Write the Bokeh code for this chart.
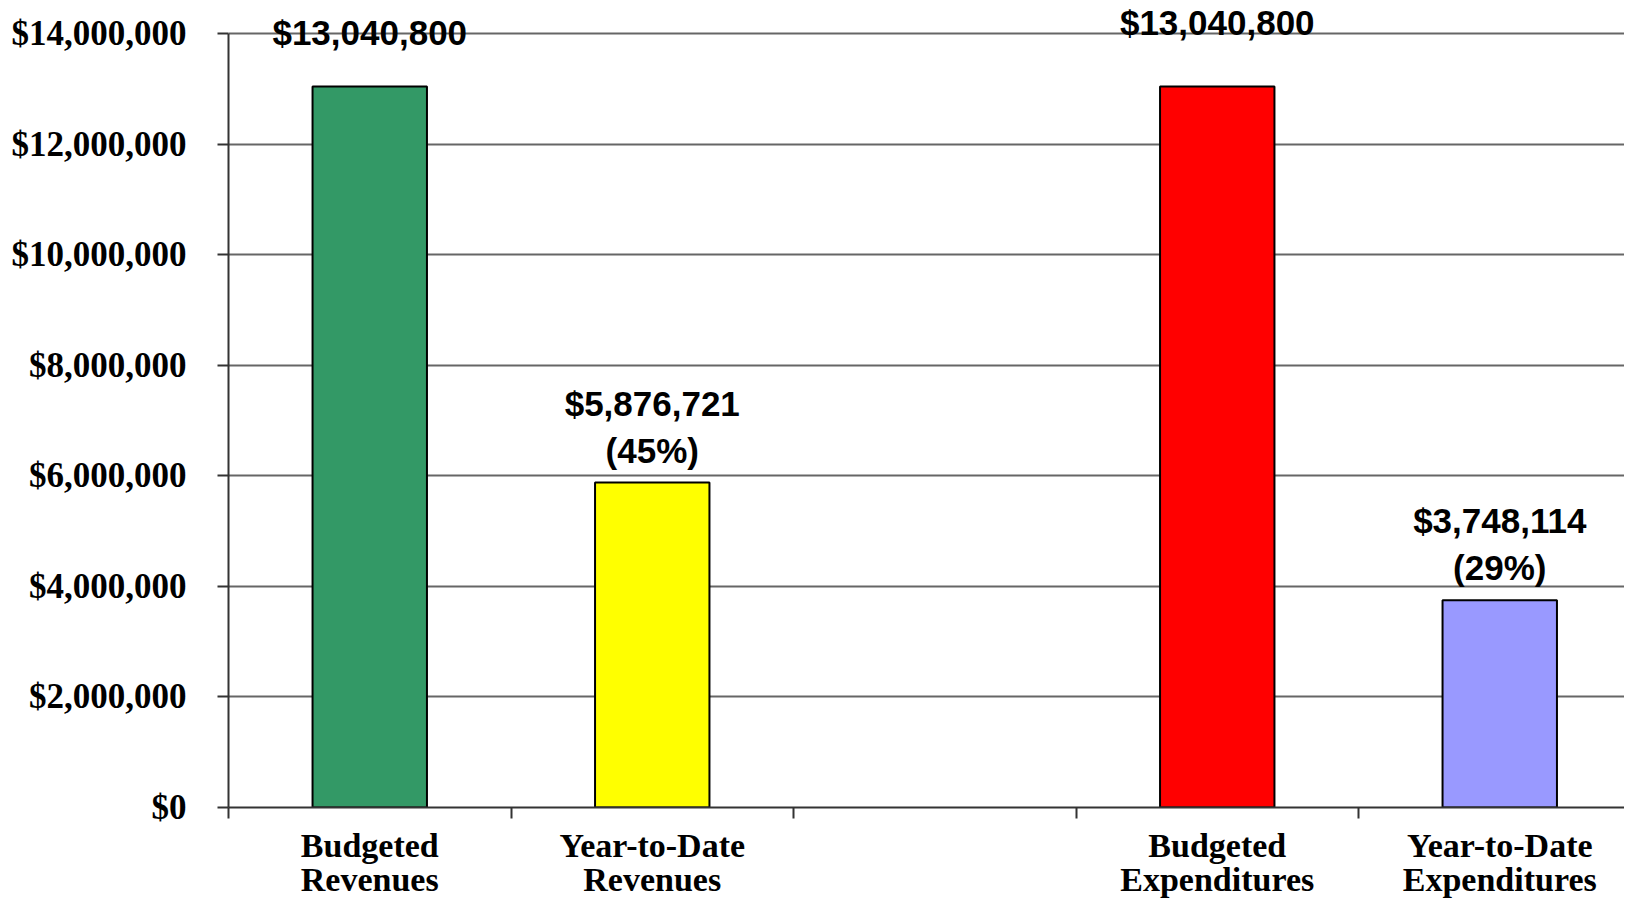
from bokeh.plotting import figure
from bokeh.layouts import column
from bokeh.models import ColumnDataSource, Range1d, FixedTicker
from bokeh.core.properties import value
from bokeh.embed import file_html
from bokeh.resources import INLINE

# ---- data ----
categories = ["Budgeted\nRevenues", "Year-to-Date\nRevenues", "",
              "Budgeted\nExpenditures", "Year-to-Date\nExpenditures"]
amounts = [13040800, 5876721, None, 13040800, 3748114]
bar_labels = ["$13,040,800", "$5,876,721\n(45%)", "",
              "$13,040,800", "$3,748,114\n(29%)"]
bar_colors = ["#339966", "#FFFF00", None, "#FF0000", "#9999FF"]
y_ticks = [0, 2000000, 4000000, 6000000, 8000000, 10000000, 12000000, 14000000]
y_tick_labels = ["$0", "$2,000,000", "$4,000,000", "$6,000,000",
                 "$8,000,000", "$10,000,000", "$12,000,000", "$14,000,000"]

# label vertical offsets (style; Excel clamps the tall bars' labels)
label_offsets = [-35, -13, 0, -45, -13]

idx = [i for i, v in enumerate(amounts) if v is not None]
src = ColumnDataSource(dict(
    x=[i + 0.5 for i in idx],
    top=[amounts[i] for i in idx],
    color=[bar_colors[i] for i in idx],
    label=[bar_labels[i] for i in idx],
    yoff=[label_offsets[i] for i in idx],
))
centers = [i + 0.5 for i in range(len(categories))]
cat_src = ColumnDataSource(dict(x=centers, y=[1] * len(categories),
                                text=categories))

W = 1624
LEFT = 228
FRAME_H = 807
AXIS_B = 20
LABEL_H = 900 - FRAME_H - AXIS_B
SLOT = 282.5
frame_w = W - LEFT
px_per_unit = 774 / 14000000

p = figure(width=W, height=FRAME_H + AXIS_B, output_backend="svg",
           toolbar_location=None,
           x_range=Range1d(0, frame_w / SLOT),
           y_range=Range1d(0, FRAME_H / px_per_unit),
           min_border_left=LEFT, min_border_bottom=AXIS_B,
           min_border_top=0, min_border_right=0)
p.outline_line_color = None
p.background_fill_color = "white"

p.vbar(x="x", top="top", bottom=0, width=0.405, fill_color="color",
       line_color="black", line_width=2, source=src)

p.text(x="x", y="top", text="label", y_offset="yoff", source=src,
       text_align="center", text_baseline="bottom",
       text_font=value("Liberation Sans"), text_font_style="bold",
       text_font_size="35px", text_color="black", text_line_height=1.2)

# y axis
p.yaxis.ticker = FixedTicker(ticks=y_ticks, minor_ticks=[])
p.yaxis.major_label_overrides = {t: l for t, l in zip(y_ticks, y_tick_labels)}
p.yaxis.bounds = (0, 14000000)
p.yaxis.major_label_text_font = "Liberation Serif"
p.yaxis.major_label_text_font_style = "bold"
p.yaxis.major_label_text_font_size = "35px"
p.yaxis.major_label_text_color = "black"
p.yaxis.major_label_standoff = 31
p.yaxis.major_tick_out = 11
p.yaxis.major_tick_in = 0
p.yaxis.minor_tick_line_color = None
p.yaxis.axis_line_color = "#333333"
p.yaxis.axis_line_width = 2
p.yaxis.major_tick_line_color = "#333333"
p.yaxis.major_tick_line_width = 2

# x axis: tick marks at slot boundaries
p.xaxis.ticker = FixedTicker(ticks=list(range(len(categories) + 1)),
                             minor_ticks=[])
p.xaxis.major_label_text_font_size = "0px"
p.xaxis.major_label_text_alpha = 0
p.xaxis.major_label_standoff = 0
p.xaxis.major_tick_out = 11
p.xaxis.major_tick_in = 0
p.xaxis.major_tick_line_color = "#333333"
p.xaxis.major_tick_line_width = 2
p.xaxis.minor_tick_line_color = None
p.xaxis.axis_line_color = "#333333"
p.xaxis.axis_line_width = 2

p.xgrid.grid_line_color = None
p.ygrid.ticker = FixedTicker(ticks=y_ticks[1:])
p.ygrid.grid_line_color = "#666666"
p.ygrid.grid_line_width = 2

# category names strip, sharing the x scale
q = figure(width=W, height=LABEL_H, output_backend="svg",
           toolbar_location=None, x_range=p.x_range,
           y_range=Range1d(0, 1),
           min_border_left=LEFT, min_border_bottom=0,
           min_border_top=0, min_border_right=0)
q.axis.visible = False
q.grid.grid_line_color = None
q.outline_line_color = None
q.text(x="x", y="y", text="text", source=cat_src, y_offset=-1,
       text_align="center", text_baseline="top",
       text_font=value("Liberation Serif"), text_font_style="bold",
       text_font_size="34px", text_color="black", text_line_height=0.93)

layout = column(p, q, spacing=0)
open("out.html", "w").write(file_html(layout, INLINE))
